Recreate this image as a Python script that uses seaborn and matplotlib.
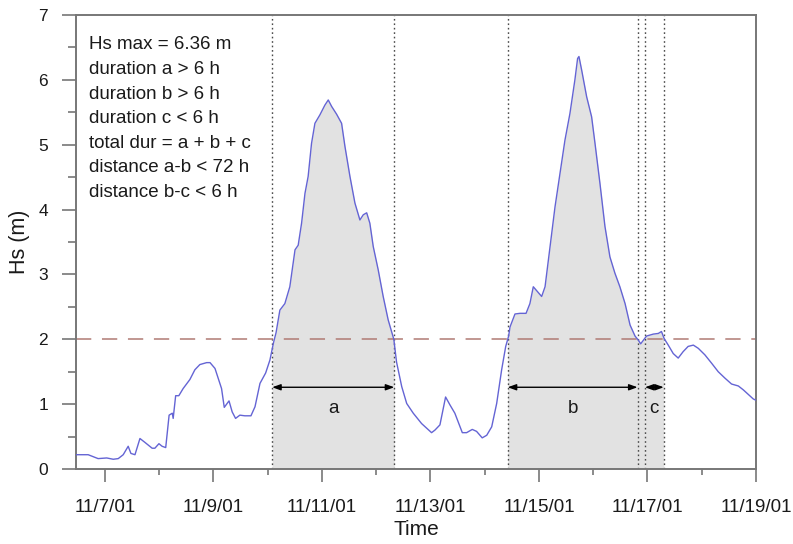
import numpy as np
import pandas as pd
import matplotlib
matplotlib.use("Agg")
import matplotlib.pyplot as plt
import matplotlib.dates as mdates
from matplotlib.ticker import FuncFormatter, MultipleLocator
import seaborn as sns

# Significant wave height record, hours after 2001-11-07 00:00
hours = [-13.0, -7.4, -3.0, 0.8, 3.7, 5.9, 8.1, 10.3, 11.5, 13.3, 15.5, 17.7,
         20.9, 22.1, 23.9, 25.3, 26.9, 28.4, 29.8, 30.2, 31.3, 32.7, 34.6, 37.6,
         39.8, 42.0, 45.0, 46.5, 48.7, 51.6, 52.8, 54.9, 56.3, 57.8, 59.7, 61.9,
         64.6, 66.4, 68.6, 71.1, 73.0, 74.6, 75.7, 77.4, 79.6, 81.8, 84.1, 85.5,
         87.0, 88.5, 89.9, 91.4, 92.9, 95.1, 97.3, 98.8, 100.3, 102.5, 104.7,
         106.2, 108.4, 110.6, 112.8, 114.3, 115.8, 117.2, 118.7, 120.9, 123.1,
         125.3, 127.8, 129.0, 131.3, 133.5, 136.4, 140.1, 144.5, 146.0, 148.2,
         150.7, 152.6, 154.8, 158.1, 160.0, 162.5, 164.4, 166.9, 168.9, 171.1,
         173.3, 175.5, 177.3, 178.6, 179.2, 181.4, 183.6, 186.3, 188.0, 189.5,
         191.0, 193.2, 194.7, 196.9, 199.1, 201.3, 203.5, 205.7, 207.9, 209.1,
         209.7, 210.9, 213.1, 215.3, 216.8, 219.0, 221.2, 223.4, 225.6, 227.8,
         230.1, 232.3, 234.5, 235.9, 237.0, 238.1, 239.6, 242.6, 244.8, 246.2,
         247.4, 249.2, 251.4, 253.6, 255.8, 258.0, 260.3, 262.5, 265.4, 268.4,
         271.3, 274.3, 277.2, 280.2, 282.4, 284.6, 286.8, 288.0]
hs = [0.22, 0.22, 0.16, 0.17, 0.15, 0.16, 0.22, 0.35, 0.24, 0.22, 0.47, 0.41,
      0.32, 0.32, 0.39, 0.35, 0.33, 0.83, 0.86, 0.78, 1.13, 1.13, 1.24, 1.38,
      1.53, 1.61, 1.64, 1.64, 1.55, 1.24, 0.95, 1.05, 0.88, 0.78, 0.83, 0.82,
      0.82, 0.96, 1.32, 1.48, 1.68, 1.95, 2.10, 2.45, 2.55, 2.81, 3.38, 3.45,
      3.79, 4.25, 4.51, 5.02, 5.33, 5.46, 5.61, 5.69, 5.59, 5.47, 5.33,
      4.97, 4.51, 4.10, 3.84, 3.92, 3.95, 3.79, 3.43, 3.07, 2.66,
      2.30, 2.00, 1.65, 1.27, 1.01, 0.86, 0.70, 0.56, 0.60, 0.68,
      1.11, 0.99, 0.86, 0.56, 0.56, 0.61, 0.58, 0.48, 0.52, 0.65,
      1.01, 1.53, 1.89, 2.05, 2.19, 2.39, 2.40, 2.40, 2.55, 2.81,
      2.75, 2.66, 2.81, 3.43, 4.04, 4.56, 5.07, 5.48, 6.00, 6.33,
      6.36, 6.15, 5.74, 5.43, 5.02, 4.40, 3.74, 3.27, 3.02, 2.81,
      2.55, 2.22, 2.05, 1.99, 1.93, 1.98, 2.05, 2.08, 2.09, 2.12,
      2.01, 1.91, 1.78, 1.71, 1.81, 1.89, 1.91, 1.86, 1.76, 1.63,
      1.50, 1.40, 1.31, 1.28, 1.22, 1.15, 1.08, 1.06]

threshold = 2.0
# Sub-events above the threshold (hours after 2001-11-07 00:00)
event_names = ["a", "b", "c"]
event_start_h = [74.0, 178.2, 238.9]
event_end_h = [128.0, 235.6, 247.2]
max_merge_gap_h = 6.0

info_lines = ["Hs max = 6.36 m", "duration a > 6 h", "duration b > 6 h",
              "duration c < 6 h", "total dur = a + b + c",
              "distance a-b < 72 h", "distance b-c < 6 h"]

base = pd.Timestamp("2001-11-07 00:00")
to_time = lambda h: base + pd.to_timedelta(np.asarray(h, dtype=float), unit="h")
df = pd.DataFrame({"Time": to_time(hours), "Hs": hs})

sns.set_theme(style="white")
plt.rcParams["font.family"] = ["Liberation Sans", "DejaVu Sans"]

fig = plt.figure(figsize=(7.93, 5.44), dpi=100)
ax = fig.add_axes([0.0958, 0.1379, 0.8575, 0.8345])

curve_color = "#6464d4"
axis_color = "#777777"

# shaded storm periods: each sub-event, plus short gaps between sub-events
spans = list(zip(event_start_h, event_end_h))
for i in range(len(spans) - 1):
    gap = (spans[i][1], spans[i + 1][0])
    if gap[1] - gap[0] < max_merge_gap_h:
        spans.append(gap)
for s, e in spans:
    th = np.linspace(s, e, 300)
    ax.fill_between(to_time(th), 0, np.interp(th, hours, hs),
                    color="#e2e2e2", lw=0, zorder=1)

for h in event_start_h + event_end_h:
    ax.axvline(to_time(h), color="#4a4a4a", lw=1.0,
               linestyle=(0, (1.2, 2.0)), zorder=2)

ax.axhline(threshold, color="#b07a74", lw=1.1, dashes=(10, 7), zorder=2)

sns.lineplot(data=df, x="Time", y="Hs", ax=ax, color=curve_color,
             lw=1.0, zorder=4, estimator=None, sort=False)

# duration arrows with sub-event letters
arrow_y = 1.26
letter_y = 0.94
for name, s, e in zip(event_names, event_start_h, event_end_h):
    ax.annotate("", xy=(mdates.date2num(to_time(e)), arrow_y),
                xytext=(mdates.date2num(to_time(s)), arrow_y),
                arrowprops=dict(arrowstyle="<|-|>,head_length=0.55,head_width=0.2",
                                color="black", lw=1.0, shrinkA=0, shrinkB=0,
                                mutation_scale=9), zorder=5)
    ax.text(mdates.date2num(to_time((s + e) / 2)), letter_y, name,
            ha="center", va="center", fontsize=13.5, color="#1a1a1a", zorder=5)

for i, line in enumerate(info_lines):
    ax.text(0.019, 0.934 - i * 0.054, line, transform=ax.transAxes,
            ha="left", va="center", fontsize=13.5, color="#1a1a1a", zorder=6)

ax.set_xlim(mdates.date2num(to_time(-12.8)), mdates.date2num(to_time(288.0)))
ax.set_ylim(0, 7)

ax.xaxis.set_major_locator(mdates.DayLocator(bymonthday=range(1, 32, 2)))
ax.xaxis.set_minor_locator(mdates.DayLocator(bymonthday=range(2, 32, 2)))
ax.xaxis.set_major_formatter(FuncFormatter(
    lambda x, pos: (lambda d: f"{d.month}/{d.day}/{d:%y}")(mdates.num2date(x))))
ax.yaxis.set_major_locator(MultipleLocator(1))
ax.yaxis.set_minor_locator(MultipleLocator(0.5))

ax.tick_params(axis="x", which="major", direction="out", length=9.5, width=1.2,
               color=axis_color, pad=12, labelsize=13.5, labelcolor="#1a1a1a",
               bottom=True)
ax.tick_params(axis="x", which="minor", direction="out", length=4.5, width=1.2,
               color=axis_color, bottom=True)
ax.tick_params(axis="y", which="major", direction="out", length=10, width=1.2,
               color=axis_color, pad=10, labelsize=12.5, labelcolor="#1a1a1a",
               left=True)
ax.tick_params(axis="y", which="minor", direction="out", length=5.5, width=1.2,
               color=axis_color, left=True)

for sp in ax.spines.values():
    sp.set_visible(True)
    sp.set_color(axis_color)
    sp.set_linewidth(1.4)

ax.set_xlabel("Time", fontsize=15, color="#1a1a1a")
ax.set_ylabel("Hs (m)", fontsize=15.5, color="#1a1a1a")
ax.xaxis.set_label_coords(0.5, -0.112)
ax.yaxis.set_label_coords(-0.067, 0.5)

fig.savefig("out.png", dpi=100)
